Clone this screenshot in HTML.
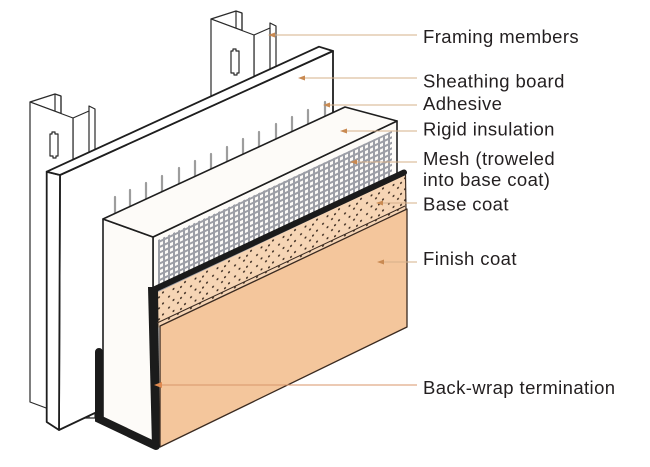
<!DOCTYPE html>
<html><head><meta charset="utf-8"><style>
html,body{margin:0;padding:0;background:#fff;}
svg{display:block;}
text{font-family:"Liberation Sans",Arial,sans-serif;font-size:18.5px;fill:#231f20;letter-spacing:0.4px;}
</style></head><body>
<svg width="650" height="467" viewBox="0 0 650 467" xmlns="http://www.w3.org/2000/svg">
<defs>
<pattern id="dots" width="22" height="11" patternUnits="userSpaceOnUse" patternTransform="skewY(-25.3)">
<circle cx="2" cy="2" r="1.05" fill="#3b2a1f"/>
<circle cx="9" cy="6.5" r="1.05" fill="#3b2a1f"/>
<circle cx="15" cy="2.5" r="1.05" fill="#3b2a1f"/>
<circle cx="19.5" cy="8" r="1.05" fill="#3b2a1f"/>
<circle cx="5" cy="9.5" r="1.05" fill="#3b2a1f"/>
</pattern>
<clipPath id="meshclip"><polygon points="158,240 392,131 392,182 158,293"/></clipPath>
</defs>

<!-- Left stud -->
<g transform="translate(30,102)" fill="#fff" stroke="#2a2a2a" stroke-width="1.2" stroke-linejoin="round">
<polygon points="0,0 25,-8 31,-6 31,11.5 0,0"/>
<polygon points="43,16 59,9 59,4 65,7 65,316 43,316"/>
<line x1="59" y1="9" x2="59" y2="316"/>
<polygon points="0,0 43,16 43,316 0,300"/>
<line x1="25" y1="-8" x2="25" y2="9.3"/>
<line x1="31" y1="-6" x2="31" y2="11.5"/>
<path d="M20,32 h2 v-2 h3 v2 h3 v22 h-2 v2 h-3 v-2 h-3 z"/>
</g>
<!-- Right stud -->
<g transform="translate(211,19)" fill="#fff" stroke="#2a2a2a" stroke-width="1.2" stroke-linejoin="round">
<polygon points="0,0 25,-8 31,-6 31,11.5 0,0"/>
<polygon points="43,16 59,9 59,4 65,7 65,166 43,166"/>
<line x1="59" y1="9" x2="59" y2="166"/>
<polygon points="0,0 43,16 43,166 0,150"/>
<line x1="25" y1="-8" x2="25" y2="9.3"/>
<line x1="31" y1="-6" x2="31" y2="11.5"/>
<path d="M20,32 h2 v-2 h3 v2 h3 v22 h-2 v2 h-3 v-2 h-3 z"/>
</g>

<!-- Sheathing board -->
<g fill="#fff" stroke="#1e1e1e" stroke-width="1.8" stroke-linejoin="round">
<polygon points="60,175 333,51 333,300 59,430"/>
<polygon points="46.7,171.7 60,175 59,430 46.7,422"/>
<polygon points="46.7,171.7 319,46.7 333,51 60,175"/>
</g>

<!-- Adhesive -->
<g stroke="#9d9d9d" stroke-width="2.2" stroke-linecap="round">
<line x1="115" y1="197" x2="115" y2="225"/>
<line x1="130" y1="190" x2="130" y2="220"/>
<line x1="146" y1="183" x2="146" y2="212"/>
<line x1="162" y1="176" x2="162" y2="205"/>
<line x1="179" y1="168" x2="179" y2="198"/>
<line x1="195" y1="161" x2="195" y2="190"/>
<line x1="211" y1="154" x2="211" y2="183"/>
<line x1="227" y1="147" x2="227" y2="176"/>
<line x1="243" y1="139" x2="243" y2="168"/>
<line x1="259" y1="132" x2="259" y2="161"/>
<line x1="276" y1="124" x2="276" y2="153"/>
<line x1="292" y1="117" x2="292" y2="146"/>
<line x1="308" y1="110" x2="308" y2="139"/>
<line x1="325" y1="102" x2="325" y2="131"/>
</g>

<!-- Insulation -->
<g fill="#fdfbf8" stroke="#1e1e1e" stroke-width="1.6" stroke-linejoin="round">
<polygon points="153,237 397,121 397,300 153,420"/>
<polygon points="103,219 153,237 153,445 103,420"/>
<polygon points="103,219 345,107 397,121 153,237"/>
</g>

<!-- Mesh -->
<g clip-path="url(#meshclip)" stroke="#9c9ea6" stroke-width="2">
<path d="M159 120V300M164 120V300M169 120V300M174 120V300M179 120V300M184 120V300M189 120V300M194 120V300M199 120V300M204 120V300M209 120V300M214 120V300M219 120V300M224 120V300M229 120V300M234 120V300M239 120V300M244 120V300M249 120V300M254 120V300M259 120V300M264 120V300M269 120V300M274 120V300M279 120V300M284 120V300M289 120V300M294 120V300M299 120V300M304 120V300M309 120V300M314 120V300M319 120V300M324 120V300M329 120V300M334 120V300M339 120V300M344 120V300M349 120V300M354 120V300M359 120V300M364 120V300M369 120V300M374 120V300M379 120V300M384 120V300M389 120V300"/>
<path d="M150 246L400 128M150 251.5L400 133.5M150 257L400 139M150 262.5L400 144.5M150 268L400 150M150 273.5L400 155.5M150 279L400 161M150 284.5L400 166.5M150 290L400 172M150 295.5L400 177.5"/>
</g>

<!-- Base coat -->
<polygon points="156,293 405,175 406,212 158,328" fill="#f6d5b5"/>
<polygon points="156,293 405,175 406,212 158,328" fill="url(#dots)"/>
<line x1="405.5" y1="175" x2="406" y2="210" stroke="#3a2a20" stroke-width="1.2"/>

<!-- Black band -->
<path d="M152,290.5 L404,172.5" stroke="#1b1b1b" stroke-width="6" stroke-linecap="round" fill="none"/>
<polygon points="148,287 158,287 160,447 152,447" fill="#1b1b1b"/>

<!-- Finish coat -->
<line x1="157" y1="323" x2="405" y2="206" stroke="#3a2a20" stroke-width="1"/>
<polygon points="160,326 407,209 407,327 160,447" fill="#f4c69c" stroke="#3a2a20" stroke-width="1.3" stroke-linejoin="round"/>

<!-- Back-wrap -->
<path d="M99,352 L99,419 L156,446" stroke="#1b1b1b" stroke-width="8" fill="none" stroke-linejoin="miter" stroke-linecap="round"/>

<!-- Leaders -->
<g stroke="#d6b08a" stroke-width="1.1">
<line x1="273" y1="35" x2="417" y2="35"/>
<line x1="303" y1="78" x2="417" y2="78"/>
<line x1="328" y1="105" x2="417" y2="105"/>
<line x1="345" y1="131" x2="417" y2="131"/>
<line x1="355" y1="162" x2="417" y2="162"/>
<line x1="381" y1="203" x2="417" y2="203"/>
<line x1="382" y1="262" x2="417" y2="262"/>
<line x1="160" y1="385" x2="417" y2="385" stroke="#d9956a"/>
</g>
<g fill="#c98a52">
<polygon points="268,35 275,32.5 275,37.5"/>
<polygon points="298,78 305,75.5 305,80.5"/>
<polygon points="323,105 330,102.5 330,107.5"/>
<polygon points="340,131 347,128.5 347,133.5"/>
<polygon points="350,162 357,159.5 357,164.5"/>
<polygon points="376,203 383,200.5 383,205.5"/>
<polygon points="377,262 384,259.5 384,264.5"/>
<polygon points="154,385 162,382 162,388" fill="#e08a50"/>
</g>

<!-- Labels -->
<text x="423" y="43">Framing members</text>
<text x="423" y="87.5">Sheathing board</text>
<text x="423" y="110">Adhesive</text>
<text x="423" y="135.5">Rigid insulation</text>
<text x="423" y="165">Mesh (troweled</text>
<text x="423" y="186">into base coat)</text>
<text x="423" y="210.5">Base coat</text>
<text x="423" y="265">Finish coat</text>
<text x="423" y="394">Back-wrap termination</text>
</svg>
</body></html>
